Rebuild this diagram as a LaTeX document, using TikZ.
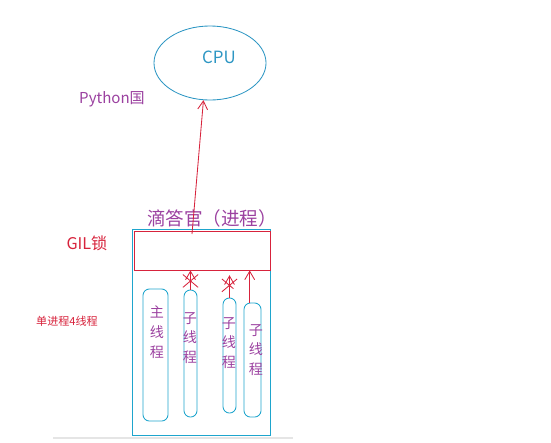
\documentclass[tikz,border=0pt]{standalone}
\usepackage{fontspec}
\setmainfont{Noto Sans CJK SC}
\usetikzlibrary{arrows.meta,shapes.geometric,shapes.misc}

\definecolor{lineblue}{RGB}{30,165,205}
\definecolor{cpublue}{RGB}{45,150,195}
\definecolor{gilred}{RGB}{215,35,60}
\definecolor{txtpurple}{RGB}{155,65,160}

\begin{document}
\begin{tikzpicture}[
    x=0.025cm, y=-0.025cm,
    thread/.style={draw=lineblue, line width=0.6pt, rounded corners=0.16cm,
                   inner sep=0pt},
    label/.style={font=\fontsize{10}{14}\selectfont, text=txtpurple,
                  align=center},
    flow/.style={-{Straight Barb[length=6pt,width=7pt]}, draw=gilred,
                 line width=0.6pt},
    blocked/.style={cross out, draw=gilred, line width=0.6pt,
                    minimum width=0.36cm, minimum height=0.3cm, inner sep=0pt},
]
    \useasboundingbox (0,0) rectangle (551,442);

    % CPU
    \node[ellipse, draw=cpublue, line width=0.6pt, minimum width=2.8cm,
          minimum height=1.85cm, inner sep=0pt] (cpu) at (210,63) {};
    \node[font=\fontsize{12}{14}\selectfont, text=cpublue] (cpulbl) at (219,57) {CPU};
    \node[font=\fontsize{10.7}{13}\selectfont, text=txtpurple] (python) at (112,99) {Python国};

    % process with GIL
    \node[draw=lineblue, line width=0.7pt, minimum width=3.425cm,
          minimum height=5.125cm, inner sep=0pt] (proc) at (201.5,332.5) {};
    \node[draw=gilred, line width=0.6pt, minimum width=3.4cm,
          minimum height=0.975cm, inner sep=0pt] (gil) at (202,250.5) {};
    \node[font=\fontsize{13.2}{15}\selectfont, text=txtpurple] (proclbl) at (212,218) {滴答官（进程）};
    \node[font=\fontsize{11.5}{14}\selectfont, text=gilred] (gillbl) at (87,243) {GIL锁};
    \node[font=\fontsize{7.9}{10}\selectfont, text=gilred] (count) at (67,321) {单进程4线程};

    % threads
    \node[thread, minimum width=0.625cm, minimum height=3.3cm] (main) at (155.5,355) {};
    \node[thread, minimum width=0.325cm, minimum height=3.175cm] (sub1) at (190.5,353.5) {};
    \node[thread, minimum width=0.325cm, minimum height=2.875cm] (sub2) at (229.5,355.5) {};
    \node[thread, minimum width=0.425cm, minimum height=2.85cm] (sub3) at (252.5,360) {};
    \node[label] (mainlbl) at (157,332) {主\\线\\程};
    \node[label] (sub1lbl) at (190,338) {子\\线\\程};
    \node[label] (sub2lbl) at (229,343) {子\\线\\程};
    \node[label] (sub3lbl) at (256,350) {子\\线\\程};

    % GIL to CPU
    \coordinate (hold) at (192,234);
    \draw[flow] (hold) -- (cpu.-100);

    % threads waiting for GIL
    \coordinate (sub3top) at ([xshift=-2]sub3.north);
    \draw[flow] (sub1.north) -- node[blocked, pos=0.45] {} (gil.south -| sub1.north);
    \draw[flow, shorten >=0.12cm] (sub2.north) -- node[blocked, pos=0.45] {} (gil.south -| sub2.north);
    \draw[flow] (sub3top) -- (gil.south -| sub3top);

    \draw[line width=1.5pt, black!10] (53,438) -- (293,438);
\end{tikzpicture}
\end{document}
